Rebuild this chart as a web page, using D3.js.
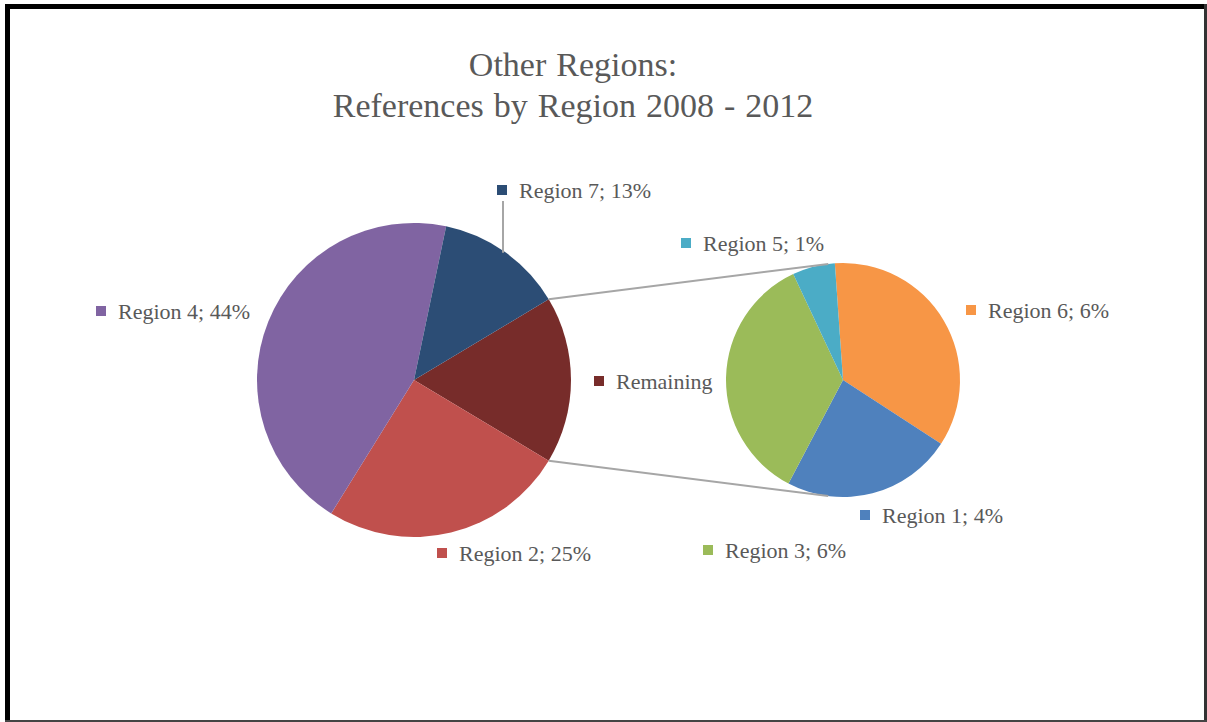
<!DOCTYPE html>
<html>
<head>
<meta charset="utf-8">
<script src="https://cdn.jsdelivr.net/npm/d3@7"></script>
<style>
  html, body { margin: 0; padding: 0; background: #fff; }
  svg { display: block; }
</style>
</head>
<body>
<svg id="chart" width="1207" height="722"></svg>
<script>
// Main pie: the four largest shares, "Remaining" is broken out in the secondary pie
const mainLabels = ["Remaining", "Region 2", "Region 4", "Region 7"];
const mainValues = [17, 25, 44, 13];
const mainColors = ["#772C2A", "#C0504D", "#8064A2", "#2C4D75"];

// Secondary pie: the parts that make up "Remaining"
const subLabels = ["Region 6", "Region 1", "Region 3", "Region 5"];
const subValues = [6, 4, 6, 1];
const subColors = ["#F79646", "#4F81BD", "#9BBB59", "#4BACC6"];

const titleLines = ["Other Regions:", "References by Region 2008 - 2012"];

// Where each data label sits (marker square top-left)
const labelAnchor = {
  "Region 7": [497, 185],
  "Region 4": [96, 306],
  "Remaining": [594, 376],
  "Region 2": [437, 548],
  "Region 5": [681, 238],
  "Region 6": [966, 305],
  "Region 1": [860, 510],
  "Region 3": [703, 545]
};

const svg = d3.select("#chart");
const textColor = "#595959";
const font = "'Liberation Serif', 'Times New Roman', serif";

// Frame
svg.append("rect").attr("x", 0).attr("y", 0).attr("width", 1207).attr("height", 722).attr("fill", "#fff");
svg.append("rect").attr("x", 5).attr("y", 4).attr("width", 5).attr("height", 718).attr("fill", "#000");
svg.append("rect").attr("x", 5).attr("y", 4).attr("width", 1202).attr("height", 5).attr("fill", "#000");
svg.append("rect").attr("x", 1204).attr("y", 4).attr("width", 3).attr("height", 718).attr("fill", "#333");
svg.append("rect").attr("x", 5).attr("y", 720).attr("width", 1202).attr("height", 2).attr("fill", "#444");

// Title
const title = svg.append("text")
  .attr("text-anchor", "middle")
  .attr("font-family", font)
  .attr("font-size", 34)
  .attr("word-spacing", 1.5)
  .attr("fill", textColor);
titleLines.forEach((t, i) => {
  title.append("tspan").attr("x", 573).attr("y", 76 + i * 41).text(t);
});

// Geometry
const main = { cx: 414, cy: 380, r: 157 };
const sub = { cx: 843, cy: 380, r: 117 };

const mainTotal = d3.sum(mainValues);
const remainingHalf = mainValues[0] / mainTotal * Math.PI;
const mainPie = d3.pie().sort(null)
  .startAngle(Math.PI / 2 - remainingHalf)
  .endAngle(Math.PI / 2 - remainingHalf + 2 * Math.PI);
const mainArcs = mainPie(mainValues);

const subStart = -4 * Math.PI / 180;
const subPie = d3.pie().sort(null)
  .startAngle(subStart)
  .endAngle(subStart + 2 * Math.PI);
const subArcs = subPie(subValues);

const mainArc = d3.arc().innerRadius(0).outerRadius(main.r);
const subArc = d3.arc().innerRadius(0).outerRadius(sub.r);

// point on a circle for a d3 angle (0 = 12 o'clock, clockwise)
const pt = (c, a) => [c.cx + c.r * Math.sin(a), c.cy - c.r * Math.cos(a)];

// Connector lines: from the edges of "Remaining" tangent to the secondary pie
function tangentPoint(p, c, upper) {
  const dx = p[0] - c.cx, dy = p[1] - c.cy;
  const d = Math.hypot(dx, dy);
  const base = Math.atan2(dy, dx);
  const off = Math.acos(c.r / d);
  const a = upper ? base + off : base - off;
  return [c.cx + c.r * Math.cos(a), c.cy + c.r * Math.sin(a)];
}
const pTop = pt(main, mainArcs[0].startAngle);
const pBot = pt(main, mainArcs[0].endAngle);
const tTop = tangentPoint(pTop, sub, true);
const tBot = tangentPoint(pBot, sub, false);

svg.append("g")
  .attr("transform", `translate(${main.cx},${main.cy})`)
  .selectAll("path").data(mainArcs).join("path")
  .attr("d", mainArc)
  .attr("fill", (d, i) => mainColors[i]);

svg.append("g")
  .attr("transform", `translate(${sub.cx},${sub.cy})`)
  .selectAll("path").data(subArcs).join("path")
  .attr("d", subArc)
  .attr("fill", (d, i) => subColors[i]);

svg.append("g").attr("stroke", "#A6A6A6").attr("stroke-width", 2).attr("fill", "none")
  .selectAll("line").data([[pTop, tTop], [pBot, tBot]]).join("line")
  .attr("x1", d => d[0][0]).attr("y1", d => d[0][1])
  .attr("x2", d => d[1][0]).attr("y2", d => d[1][1]);

// Leader line for Region 7
{
  const [lx, ly] = labelAnchor["Region 7"];
  const x = lx + 6;
  const dx = x - main.cx;
  const yEdge = main.cy - Math.sqrt(main.r * main.r - dx * dx);
  svg.append("line")
    .attr("x1", x).attr("y1", ly + 16)
    .attr("x2", x).attr("y2", yEdge + 2)
    .attr("stroke", "#A6A6A6").attr("stroke-width", 2);
}

// Data labels
const labels = [];
mainLabels.forEach((name, i) => {
  labels.push({ name, color: mainColors[i],
    text: name === "Remaining" ? name : `${name}; ${Math.round(mainValues[i] / mainTotal * 100)}%` });
});
subLabels.forEach((name, i) => {
  labels.push({ name, color: subColors[i], text: `${name}; ${subValues[i]}%` });
});

const lg = svg.append("g");
labels.forEach(l => {
  const [x, y] = labelAnchor[l.name];
  lg.append("rect").attr("x", x).attr("y", y).attr("width", 10).attr("height", 10).attr("fill", l.color);
  lg.append("text")
    .attr("x", x + 22).attr("y", y + 13)
    .attr("font-family", font).attr("font-size", 22)
    .attr("fill", textColor)
    .text(l.text);
});
</script>
</body>
</html>
